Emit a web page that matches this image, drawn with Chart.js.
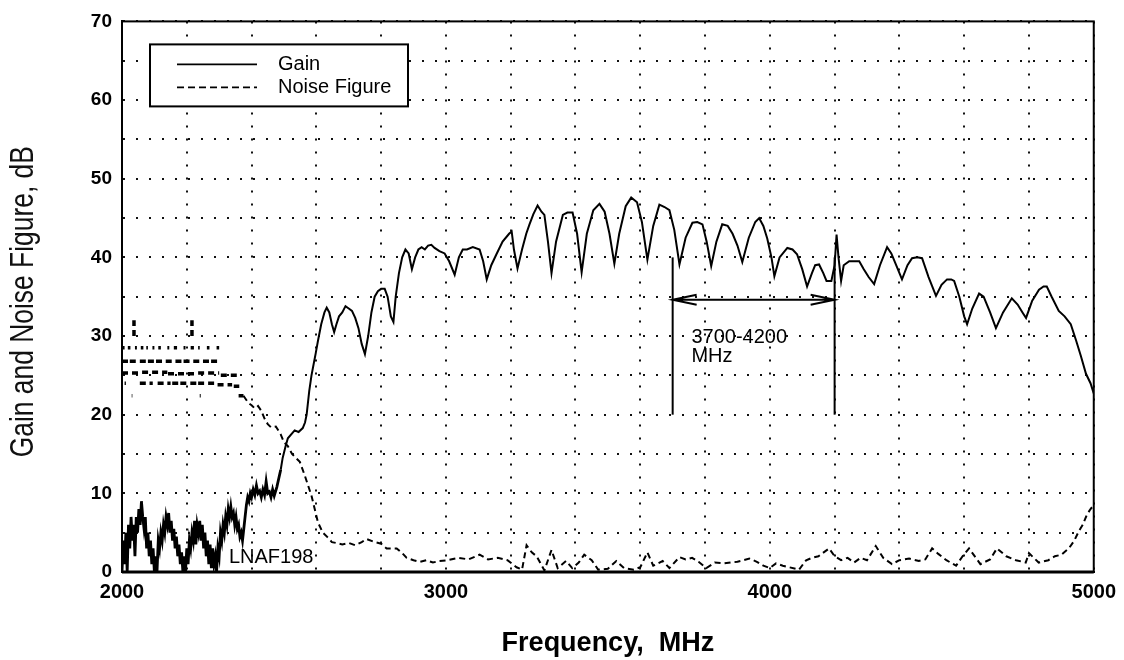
<!DOCTYPE html>
<html>
<head>
<meta charset="utf-8">
<title>LNAF198 gain and noise figure</title>
<script src="https://cdn.jsdelivr.net/npm/chart.js@4.4.1/dist/chart.umd.min.js"></script>
<style>
  html, body { margin: 0; padding: 0; background: #fff; }
  #chart { display: block; }
</style>
</head>
<body>
<canvas id="chart" width="1124" height="660"></canvas>
<script>
// frequency axis (MHz) and dB axis
const freqRange = [2000, 5000];
const dbRange = [0, 70];

// Gain trace
const gainFreq = [
  2000, 2004, 2008, 2012, 2016, 2020, 2024, 2028, 2032, 2036, 2040, 2044, 2048, 2052, 2056, 2060,
  2064, 2068, 2072, 2076, 2080, 2084, 2088, 2092, 2096, 2100, 2104, 2108, 2112, 2116, 2120, 2124,
  2128, 2132, 2136, 2140, 2144, 2148, 2152, 2156, 2160, 2164, 2168, 2172, 2176, 2180, 2184, 2188,
  2192, 2196, 2200, 2204, 2208, 2212, 2216, 2220, 2224, 2228, 2232, 2236, 2240, 2244, 2248, 2252,
  2256, 2260, 2264, 2268, 2272, 2276, 2280, 2284, 2288, 2292, 2296, 2300, 2304, 2308, 2312, 2316,
  2320, 2324, 2328, 2332, 2336, 2340, 2344, 2348, 2352, 2356, 2360, 2364, 2368, 2372, 2376, 2380,
  2384, 2388, 2392, 2396, 2400, 2405, 2410, 2415, 2420, 2425, 2430, 2435, 2440, 2445, 2450, 2455,
  2460, 2465, 2470, 2478, 2490, 2496, 2505, 2512, 2533, 2545, 2558, 2565, 2570, 2578, 2585, 2592,
  2598, 2605, 2615, 2625, 2632, 2640, 2648, 2655, 2662, 2670, 2680, 2690, 2700, 2710, 2720, 2730,
  2740, 2750, 2760, 2770, 2780, 2790, 2800, 2811, 2820, 2830, 2838, 2845, 2855, 2865, 2875, 2885,
  2895, 2905, 2915, 2925, 2935, 2945, 2955, 2965, 2980, 2996, 3010, 3027, 3040, 3052, 3065, 3083,
  3104, 3115, 3126, 3140, 3156, 3175, 3195, 3203, 3210, 3221, 3235, 3248, 3258, 3270, 3283, 3295,
  3304, 3315, 3326, 3340, 3361, 3375, 3391, 3405, 3419, 3435, 3455, 3474, 3490, 3505, 3520, 3535,
  3555, 3572, 3590, 3605, 3622, 3640, 3659, 3675, 3690, 3705, 3721, 3740, 3761, 3776, 3792, 3805,
  3819, 3835, 3853, 3870, 3885, 3900, 3915, 3935, 3955, 3967, 3980, 3992, 4005, 4014, 4030, 4054,
  4070, 4084, 4100, 4115, 4130, 4140, 4152, 4165, 4175, 4190, 4200, 4206, 4212, 4220, 4228, 4245,
  4260, 4276, 4290, 4305, 4322, 4340, 4362, 4375, 4390, 4408, 4425, 4439, 4455, 4470, 4490, 4513,
  4530, 4547, 4560, 4569, 4585, 4600, 4609, 4625, 4646, 4660, 4680, 4698, 4720, 4747, 4765, 4780,
  4791, 4810, 4831, 4845, 4855, 4870, 4892, 4910, 4929, 4945, 4960, 4976, 4990, 5000
];
const gainDb = [
  0, 4, 1, 5, 0, 6, 3, 7, 4, 6, 2, 7, 5, 8, 6, 9,
  7, 5.5, 7, 3, 5, 2, 4, 1, 3, 0, 2, 0, 4, 3, 5, 4,
  6, 5, 7, 6, 7.5, 5, 6.5, 4, 5.5, 3, 4.5, 2, 3.5, 1, 2.5, 0,
  2, 0, 3, 1, 4, 3, 5, 4, 6.5, 3.5, 6, 5, 6.5, 4, 6, 3,
  5, 2, 4, 1, 3.5, 0.5, 3, 1, 2, 0, 3, 2, 5, 4, 6, 5,
  7, 6, 8, 7, 8.3, 7, 7.5, 6, 7, 5.5, 6, 4.5, 5, 4, 5.5, 7,
  8.5, 9.5, 9, 10, 9.5, 10.5, 9.8, 11, 10, 10.3, 9.5, 10.5, 9.8, 11.5, 10, 10.2,
  9.5, 10.5, 9.7, 10.8, 13, 14.5, 16, 17, 18, 17.8, 18.3, 19, 20, 23, 25, 26.5,
  27.8, 29.4, 31.5, 33, 33.6, 33, 31.5, 30.5, 31.5, 32.5, 33, 33.8, 33.5, 33.2, 32.3, 31,
  29, 27.7, 30, 33, 35, 35.7, 36, 36, 35, 32.5, 31.8, 35, 38, 40, 41, 40.5,
  38.5, 40, 41, 41.3, 41, 41.5, 41.6, 41.2, 40.8, 40.5, 39.5, 37.8, 40, 41, 41, 41.3,
  41, 39.5, 37.2, 39, 40.4, 42, 43, 43.3, 41, 38.6, 41, 43, 44.2, 45.5, 46.6, 45.8,
  45.4, 42, 38, 42, 45.4, 45.7, 45.7, 43, 38.1, 43, 46, 46.8, 45.8, 43, 39.2, 43,
  46.5, 47.6, 47, 44.5, 39.7, 44, 46.7, 46.4, 46, 43.5, 39.1, 42.5, 44.4, 44.5, 44.2, 42,
  38.9, 42, 44.2, 44, 43, 41.5, 39.4, 42.5, 44.5, 45, 44, 42.4, 40, 37.6, 40, 41.2,
  41, 40.4, 38.5, 36.3, 38, 39, 39.1, 38, 37, 37, 39, 42.9, 40, 37, 39, 39.5,
  39.5, 39.5, 38.5, 37.5, 36.6, 39, 41.3, 40.5, 39, 37.2, 39, 39.9, 40, 39.9, 37.5, 35.1,
  36.5, 37.2, 37.2, 37, 35, 32.5, 31.5, 33.5, 35.4, 35, 33, 31, 33, 34.8, 34, 33,
  32.3, 34.5, 35.9, 36.3, 36.3, 35, 33.2, 32.5, 31.5, 29.5, 27.5, 25.2, 24, 22.7
];

// Noise figure below 2360 MHz shows as broken level runs: [from, to, dB]
const nfNoisyRuns = [
  [2000, 2020, 26.8], [2024, 2050, 26.8], [2055, 2075, 26.8], [2080, 2100, 26.8], [2105, 2130, 26.8],
  [2135, 2160, 26.8], [2165, 2185, 26.8], [2190, 2215, 26.8], [2220, 2245, 26.8], [2250, 2270, 26.8],
  [2275, 2300, 26.8],
  [2003, 2008, 28.5], [2018, 2026, 28.5], [2040, 2046, 28.5], [2058, 2066, 28.5], [2075, 2080, 28.5],
  [2094, 2100, 28.5], [2112, 2120, 28.5], [2140, 2146, 28.5], [2160, 2170, 28.5], [2190, 2196, 28.5],
  [2212, 2222, 28.5], [2235, 2240, 28.5], [2262, 2270, 28.5], [2292, 2300, 28.5],
  [2000, 2060, 25.3], [2062, 2140, 25.4], [2142, 2230, 25.2], [2235, 2300, 25.3], [2305, 2362, 25.0],
  [2008, 2012, 24], [2055, 2075, 24], [2085, 2095, 24], [2110, 2130, 24], [2140, 2150, 24],
  [2155, 2175, 24], [2180, 2230, 24], [2235, 2290, 24], [2295, 2340, 23.8], [2345, 2362, 23.6],
  [2030, 2032, 22.4], [2240, 2243, 22.4]
];
const nfSpikes = [[2037, 30, 32], [2216, 30, 32]];

// Noise figure from 2360 MHz on
const nfFreq = [
  2360, 2375, 2390, 2400, 2410, 2420, 2430, 2440, 2450, 2460, 2475, 2490, 2500, 2512, 2525, 2549,
  2564, 2585, 2605, 2620, 2635, 2648, 2660, 2680, 2700, 2720, 2740, 2755, 2780, 2800, 2817, 2848,
  2865, 2879, 2900, 2920, 2940, 2960, 2980, 3006, 3040, 3070, 3104, 3130, 3160, 3190, 3218, 3235,
  3249, 3265, 3280, 3304, 3326, 3345, 3371, 3390, 3410, 3427, 3450, 3470, 3500, 3526, 3550, 3580,
  3600, 3622, 3640, 3669, 3690, 3721, 3740, 3760, 3780, 3804, 3830, 3860, 3900, 3937, 3960, 3980,
  4000, 4019, 4040, 4060, 4090, 4112, 4130, 4150, 4183, 4200, 4220, 4240, 4260, 4280, 4300, 4327,
  4350, 4377, 4400, 4430, 4460, 4480, 4501, 4520, 4545, 4575, 4595, 4615, 4650, 4680, 4701, 4730,
  4760, 4790, 4800, 4830, 4860, 4880, 4900, 4923, 4940, 4954, 4966, 4979, 4990, 5000
];
const nfDb = [
  22.4, 22.4, 21.5, 21.2, 20.8, 21.1, 20.5, 19.5, 18.8, 18.4, 18.5, 17.5, 16.5, 16, 15, 14,
  12.3, 9.7, 6.3, 5, 4.4, 3.8, 3.7, 3.5, 3.7, 3.4, 3.8, 4.2, 3.8, 3.6, 3, 3,
  2.4, 1.8, 1.5, 1.3, 1.5, 1.2, 1.4, 1.5, 1.8, 1.6, 2.2, 1.6, 1.8, 1.5, 0.6, 0.3,
  3.4, 2.5, 2, 0.2, 2.8, 0.5, 1.4, 0.5, 1.2, 2.2, 1.5, 0.3, 0.4, 1.4, 0.5, 0.3,
  0.6, 2.5, 0.8, 1.4, 0.5, 1.9, 1.6, 1.8, 1.3, 0.5, 1.2, 1.1, 1.3, 1.7, 1.3, 0.8,
  0.5, 1.1, 0.8, 0.6, 0.3, 1.5, 1.8, 2, 3, 2, 1.5, 1.8, 1.2, 1.8, 1.5, 3.3,
  1.8, 1, 1.5, 1.7, 1.4, 1.6, 3, 2.3, 1.5, 0.8, 2, 3, 1, 1.6, 3, 2,
  1.5, 1.2, 2.4, 1.2, 1.5, 2, 2.2, 3, 4, 5.2, 6, 7.3, 8, 8.5
];

// annotations
const bandEdges = [3700, 4200];
const bandLineDb = [20, 40];
const bandArrowDb = 34.6;
const bandText = ["3700-4200", "MHz"];
const bandTextAt = [3758, 29.8];
const modelText = "LNAF198";
const modelTextAt = [2330, 1.8];
const seriesNames = ["Gain", "Noise Figure"];
const yTitle = "Gain and Noise Figure, dB";

const FONT = "'Liberation Sans', Arial, Helvetica, sans-serif";

// build the noise figure points, gaps (null) split the broken runs
const nfPoints = [];
nfNoisyRuns.forEach(([f1, f2, db]) => {
  nfPoints.push({ x: f1, y: db }, { x: f2, y: db }, { x: f2 + 0.1, y: null });
});
nfSpikes.forEach(([f, lo, hi]) => {
  nfPoints.push({ x: f, y: lo }, { x: f + 0.01, y: hi }, { x: f + 0.1, y: null });
});
nfFreq.forEach((f, i) => nfPoints.push({ x: f, y: nfDb[i] }));

const gainPoints = gainFreq.map((f, i) => ({ x: f, y: gainDb[i] }));

const framePlugin = {
  id: "frame",
  afterDatasetsDraw(chart) {
    const { ctx, chartArea: a } = chart;
    ctx.save();
    ctx.strokeStyle = "#000";
    ctx.lineWidth = 2;
    ctx.strokeRect(a.left, a.top, a.right - a.left, a.bottom - a.top);
    ctx.lineWidth = 3;
    ctx.beginPath();
    ctx.moveTo(a.left, a.bottom);
    ctx.lineTo(a.right, a.bottom);
    ctx.stroke();
    ctx.restore();
  },
};

// y title in a narrow face: squeeze the regular sans along the text
const yTitlePlugin = {
  id: "ytitle",
  afterDraw(chart) {
    const { ctx, chartArea: a } = chart;
    ctx.save();
    ctx.translate(24, (a.top + a.bottom) / 2 + 5);
    ctx.rotate(-Math.PI / 2);
    ctx.scale(0.8, 1);
    ctx.font = "33px " + FONT;
    ctx.fillStyle = "#111";
    ctx.textAlign = "center";
    ctx.textBaseline = "middle";
    ctx.fillText(yTitle, 0, 0);
    ctx.restore();
  },
};

const annotationPlugin = {
  id: "annotations",
  afterDatasetsDraw(chart) {
    const { ctx } = chart;
    const xs = chart.scales.x;
    const ys = chart.scales.y;
    ctx.save();
    ctx.strokeStyle = "#000";
    ctx.fillStyle = "#000";
    ctx.lineWidth = 2;

    // band edge markers
    bandEdges.forEach((f) => {
      const px = xs.getPixelForValue(f);
      ctx.beginPath();
      ctx.moveTo(px, ys.getPixelForValue(bandLineDb[0]));
      ctx.lineTo(px, ys.getPixelForValue(bandLineDb[1]));
      ctx.stroke();
    });

    // double arrow between the edges
    const x1 = xs.getPixelForValue(bandEdges[0]);
    const x2 = xs.getPixelForValue(bandEdges[1]);
    const ay = ys.getPixelForValue(bandArrowDb);
    ctx.beginPath();
    ctx.moveTo(x1, ay);
    ctx.lineTo(x2, ay);
    ctx.moveTo(x1 + 24, ay - 5);
    ctx.lineTo(x1, ay);
    ctx.lineTo(x1 + 24, ay + 5);
    ctx.moveTo(x2 - 24, ay - 5);
    ctx.lineTo(x2, ay);
    ctx.lineTo(x2 - 24, ay + 5);
    ctx.stroke();

    ctx.font = "20px " + FONT;
    ctx.textAlign = "left";
    ctx.textBaseline = "middle";
    const tx = xs.getPixelForValue(bandTextAt[0]);
    const ty = ys.getPixelForValue(bandTextAt[1]);
    ctx.fillText(bandText[0], tx, ty);
    ctx.fillText(bandText[1], tx, ty + 19);

    ctx.fillText(modelText, xs.getPixelForValue(modelTextAt[0]), ys.getPixelForValue(modelTextAt[1]));

    // legend box
    const a = chart.chartArea;
    const bx = a.left + 28, by = a.top + 23, bw = 258, bh = 62;
    ctx.fillStyle = "#fff";
    ctx.fillRect(bx, by, bw, bh);
    ctx.strokeRect(bx, by, bw, bh);
    ctx.fillStyle = "#000";
    const rows = [by + 20, by + 43];
    ctx.lineWidth = 1.8;
    ctx.beginPath();
    ctx.moveTo(bx + 27, rows[0]);
    ctx.lineTo(bx + 107, rows[0]);
    ctx.stroke();
    ctx.setLineDash([7, 4]);
    ctx.beginPath();
    ctx.moveTo(bx + 27, rows[1]);
    ctx.lineTo(bx + 107, rows[1]);
    ctx.stroke();
    ctx.setLineDash([]);
    ctx.fillText(seriesNames[0], bx + 128, rows[0]);
    ctx.fillText(seriesNames[1], bx + 128, rows[1]);
    ctx.restore();
  },
};

const ctx = document.getElementById("chart").getContext("2d");
const chart = new Chart(ctx, {
  type: "line",
  data: {
    datasets: [
      {
        label: seriesNames[0],
        data: gainPoints,
        borderColor: "#000",
        borderWidth: 2,
        pointRadius: 0,
        tension: 0,
        segment: {
          borderWidth: (c) => (c.p0.parsed.x < 2480 ? 2.8 : undefined),
        },
      },
      {
        label: seriesNames[1],
        data: nfPoints,
        borderColor: "#000",
        borderWidth: 2,
        borderDash: [6, 4],
        pointRadius: 0,
        tension: 0,
        spanGaps: false,
        segment: {
          borderWidth: (c) => (c.p0.parsed.x < 2365 ? 3.5 : undefined),
        },
      },
    ],
  },
  options: {
    responsive: false,
    animation: false,
    layout: { padding: { left: 2, right: 29, top: 19, bottom: 0 } },
    plugins: {
      legend: { display: false },
      tooltip: { enabled: false },
    },
    scales: {
      x: {
        type: "linear",
        min: freqRange[0],
        max: freqRange[1],
        afterFit: (s) => { s.height = 88; },
        grid: { color: "#111", lineWidth: 2, drawTicks: false },
        border: { display: true, color: "#000", width: 2, dash: [2, 11] },
        ticks: {
          stepSize: 200,
          autoSkip: false,
          maxRotation: 0,
          padding: 8,
          color: "#000",
          font: { family: FONT, size: 20, weight: "bold" },
          callback: (v) => (v % 1000 === 0 ? String(v) : ""),
        },
        title: {
          display: true,
          text: "Frequency,  MHz",
          color: "#000",
          padding: 0,
          font: { family: FONT, size: 27, weight: "bold" },
        },
      },
      y: {
        min: dbRange[0],
        max: dbRange[1],
        afterFit: (s) => { s.width = 120; },
        grid: { color: "#111", lineWidth: 2, drawTicks: false },
        border: { display: true, color: "#000", width: 2, dash: [2, 11] },
        ticks: {
          stepSize: 5,
          autoSkip: false,
          padding: 10,
          color: "#000",
          font: { family: FONT, size: 19, weight: "bold" },
          callback: (v) => (v % 10 === 0 ? String(v) : ""),
        },
      },
    },
  },
  plugins: [framePlugin, annotationPlugin, yTitlePlugin],
});
</script>
</body>
</html>
